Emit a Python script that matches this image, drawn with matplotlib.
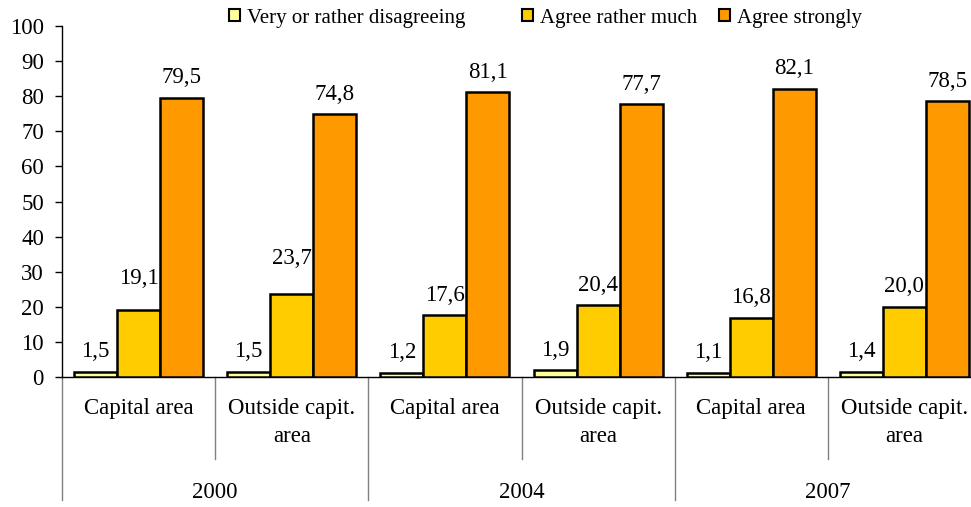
import matplotlib
matplotlib.use("Agg")
import matplotlib.pyplot as plt
from matplotlib.patches import Patch

plt.rcParams['font.family'] = ['Liberation Serif', 'DejaVu Serif']

# data
years = ["2000", "2004", "2007"]
areas = ["Capital area", "Outside capit.\narea"]
series = ["Very or rather disagreeing", "Agree rather much", "Agree strongly"]
disagree = [1.5, 1.5, 1.2, 1.9, 1.1, 1.4]
rather_much = [19.1, 23.7, 17.6, 20.4, 16.8, 20.0]
strongly = [79.5, 74.8, 81.1, 77.7, 82.1, 78.5]

colors = ["#FFFF99", "#FFCC00", "#FF9900"]
# a couple of labels in the original sit a bit higher than the rest (pixels)
label_lift = [[0] * 6, [11, 15, 0, 0, 0, 0], [0] * 6]

W, H = 971, 507
fig = plt.figure(figsize=(W / 100, H / 100), dpi=100)
# axes runs a little past the right edge of the picture, like the original
ax = fig.add_axes([62 / W, (H - 377) / H, (981 - 62) / W, (377 - 26) / H])

n = len(disagree)
bw = 0.281
values = [disagree, rather_much, strongly]
for k, vals in enumerate(values):
    xs = [i + 0.5 + (k - 1) * bw for i in range(n)]
    ax.bar(xs, vals, width=bw, color=colors[k], edgecolor="black",
           linewidth=1.8, zorder=3)
    for j, (x, v) in enumerate(zip(xs, vals)):
        ax.annotate(f"{v:.1f}".replace(".", ","), (x, v),
                    xytext=(0, 7 + label_lift[k][j] * 0.72),
                    textcoords="offset points", ha="center", va="bottom",
                    fontsize=16.5)

ax.set_xlim(0, n)
ax.set_ylim(0, 100)
ax.set_yticks(range(0, 101, 10))
ax.tick_params(axis="y", direction="out", length=5, width=1, pad=8,
               labelsize=16.5, colors="black")
ax.set_xticks([])
for s in ["top", "right"]:
    ax.spines[s].set_visible(False)
ax.spines["left"].set_linewidth(1)
ax.spines["bottom"].set_linewidth(1)

# two-level category axis
tr = ax.get_xaxis_transform()
px = 1 / 351.0
for i in range(n):
    ax.text(i + 0.5, -21 * px, areas[i % 2], transform=tr, ha="center",
            va="top", fontsize=16.5, linespacing=1.45)
for i in range(n + 1):
    if i % 2 == 0:
        y_end = -(500 - 377) * px
    else:
        y_end = -(459 - 377) * px
    ax.plot([i, i], [0, y_end], transform=tr, color="#808080", lw=1,
            clip_on=False, zorder=1)
for g, yr in enumerate(years):
    ax.text(2 * g + 1, -(492 - 377) * px, yr, transform=tr, ha="center",
            va="center", fontsize=16.5)

# legend entries laid out across the top
legend_x = [229, 522, 719]
for k, name in enumerate(series):
    fig.legend(handles=[Patch(facecolor=colors[k], edgecolor="black", lw=1.5)],
               labels=[name], loc="center left",
               bbox_to_anchor=(legend_x[k] / W, 1 - 18 / H), frameon=False,
               fontsize=15, handlelength=0.55, handleheight=0.55,
               handletextpad=0.3, borderpad=0, borderaxespad=0)

fig.savefig("out.png", dpi=100)
